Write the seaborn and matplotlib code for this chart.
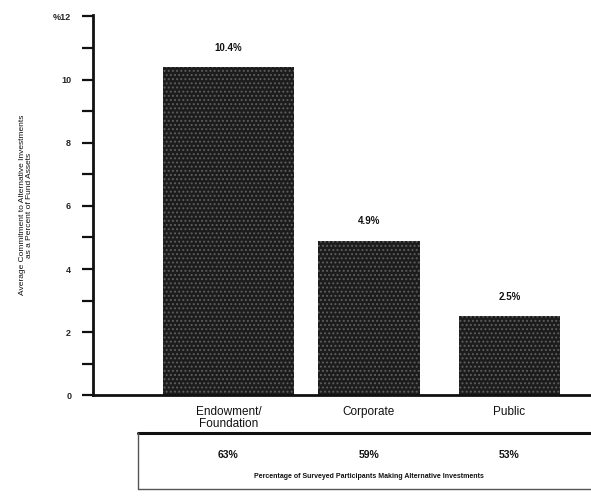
import matplotlib
matplotlib.use("Agg")
import matplotlib.pyplot as plt
import matplotlib.transforms as mtransforms
import seaborn as sns
import pandas as pd

# Plan types and their average commitment to alternatives (% of fund assets)
categories = ["Endowment/\nFoundation", "Corporate", "Public"]
commitment = [10.4, 4.9, 2.5]
value_labels = ["10.4%", "4.9%", "2.5%"]
# Share of surveyed participants making alternative investments
participation_labels = ["63%", "59%", "53%"]
y_ticks = [0, 2, 4, 6, 8, 10, 12]
y_tick_labels = ["0", "2", "4", "6", "8", "10", "%12"]

sns.set_theme(style="white")
plt.rcParams["font.family"] = ["Liberation Sans", "DejaVu Sans"]
plt.rcParams["hatch.linewidth"] = 0.9

df = pd.DataFrame({"plan": categories, "commitment": commitment})

fig = plt.figure(figsize=(5.91, 4.96), dpi=100)
ax = fig.add_axes([0.158, 0.203, 0.842, 0.767])

sns.barplot(data=df, x="plan", y="commitment", color="#1c1c1c",
            width=0.72, saturation=1, ax=ax)

# speckled fill on the bars
for patch in ax.patches:
    patch.set_hatch("....")
    patch.set_edgecolor("#5e5e5e")
    patch.set_linewidth(0)

# first bar is drawn a little wider than the others
first = ax.patches[0]
cx = first.get_x() + first.get_width() / 2
first.set_width(0.93)
first.set_x(cx - 0.465)

for i, (v, lab) in enumerate(zip(commitment, value_labels)):
    ax.text(i, v + 0.45, lab, ha="center", va="bottom",
            fontsize=7, fontweight="bold", color="#111111")

ax.set_xlim(-0.96, 2.58)
ax.set_ylim(0, 12.05)
ax.set_yticks(y_ticks)
ax.set_yticklabels(y_tick_labels, fontsize=6.5, fontweight="bold")
ax.set_yticks([1, 3, 5, 7, 9, 11], minor=True)
ax.tick_params(axis="y", which="major", direction="out", length=8, width=1.6,
               left=True, pad=8, color="#111111")
ax.tick_params(axis="y", which="minor", direction="out", length=8, width=1.6,
               left=True, color="#111111")
ax.tick_params(axis="x", length=0, pad=8)
ax.set_xticks(range(len(categories)))
ax.set_xticklabels(categories, fontsize=8.5, color="#111111", linespacing=0.95)

for side in ["top", "right"]:
    ax.spines[side].set_visible(False)
ax.spines["left"].set_linewidth(2)
ax.spines["left"].set_color("#111111")
ax.spines["bottom"].set_linewidth(2)
ax.spines["bottom"].set_color("#111111")

ax.set_xlabel("")
ax.set_ylabel("Average Commitment to Alternative Investments\nas a Percent of Fund Assets",
              fontsize=6, color="#111111", labelpad=14, linespacing=1.0)

# participation box beneath the categories
trans = mtransforms.blended_transform_factory(ax.transData, fig.transFigure)
ftrans = fig.transFigure
x0, x1 = 138 / 591, 1.0
ytop, ybot = 1 - 433 / 496, 1 - 489 / 496
fig.add_artist(plt.Line2D([x0, x1], [ytop, ytop], transform=ftrans,
                          color="#111111", linewidth=2.2))
fig.add_artist(plt.Line2D([x0, x1], [ybot, ybot], transform=ftrans,
                          color="#555555", linewidth=1.0))
fig.add_artist(plt.Line2D([x0, x0], [ybot, ytop], transform=ftrans,
                          color="#555555", linewidth=1.0))

for i, lab in enumerate(participation_labels):
    fig.text(i, 1 - 455 / 496, lab, transform=trans, ha="center", va="center",
             fontsize=7.5, fontweight="bold", color="#111111")
fig.text(0.625, 1 - 476 / 496,
         "Percentage of Surveyed Participants Making Alternative Investments",
         transform=ftrans, ha="center", va="center", fontsize=5,
         fontweight="bold", color="#111111")

fig.savefig("out.png", dpi=100)
